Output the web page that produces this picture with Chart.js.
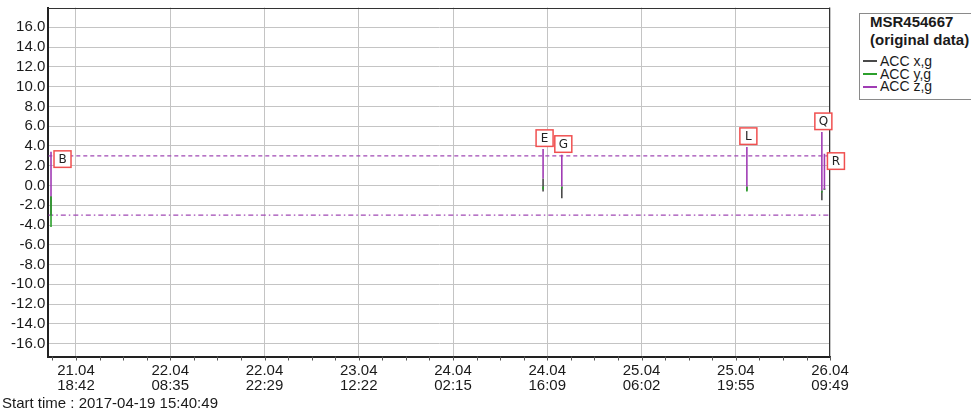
<!DOCTYPE html>
<html>
<head>
<meta charset="utf-8">
<script src="https://cdn.jsdelivr.net/npm/chart.js@4.4.0/dist/chart.umd.min.js"></script>
<style>
  body { margin: 0; background: #fff; font-family: "Liberation Sans", Arial, sans-serif; color: #1a1a1a; }
  #wrap { position: relative; width: 971px; height: 410px; }
  #legend { position: absolute; left: 859px; top: 13px; width: 112px; height: 87px;
            border: 1px solid #8a8a8a; border-right: none; box-sizing: border-box; overflow: hidden; background: #fff; }
  #legend .title { position: absolute; left: 10px; top: -1px; font-weight: bold; font-size: 15px; line-height: 18.3px; white-space: nowrap; }
  #legend .items { position: absolute; left: 3px; top: 41px; font-size: 14px; line-height: 12.7px; white-space: nowrap; }
  #legend .sw { display: inline-block; width: 14px; height: 2px; vertical-align: middle; margin-right: 3px; position: relative; top: -1px; }
  #start { position: absolute; left: 2px; top: 395px; font-size: 15px; line-height: 16px; white-space: nowrap; }
</style>
</head>
<body>
<div id="wrap">
  <canvas id="accChart" width="971" height="410"></canvas>
  <div id="legend">
    <div class="title">MSR454667<br>(original data)</div>
    <div class="items">
      <div><span class="sw" style="background:#4a4a4a"></span>ACC x,g</div>
      <div><span class="sw" style="background:#2ca02c"></span>ACC y,g</div>
      <div><span class="sw" style="background:#a03cb4"></span>ACC z,g</div>
    </div>
  </div>
  <div id="start">Start time : 2017-04-19 15:40:49</div>
</div>
<script>
// Time axis: hours elapsed since the start time
const tickHours = [51.02, 64.91, 78.80, 92.69, 106.58, 120.47, 134.36, 148.25, 162.13];
const tickLabels = [
  ['21.04', '18:42'], ['22.04', '08:35'], ['22.04', '22:29'], ['23.04', '12:22'],
  ['24.04', '02:15'], ['24.04', '16:09'], ['25.04', '06:02'], ['25.04', '19:55'], ['26.04', '09:49']
];
const xMin = 46.94;
const xMax = 162.13;

const yTicks = [-16, -14, -12, -10, -8, -6, -4, -2, 0, 2, 4, 6, 8, 10, 12, 14, 16];
const yMin = -17.3;
const yMax = 18;

// Shock events: time, marker letter and [from, to] range of each axis
const eventTimes = [47.34, 119.85, 122.61, 149.88, 160.93, 161.31];
const eventLabels = ['B', 'E', 'G', 'L', 'Q', 'R'];
const labelSide = ['right', 'above', 'above', 'above', 'above', 'right'];
const accX = [[-1.1, -3.0], [0.7, -0.6], [-0.1, -1.3], [-0.1, -0.5], [-0.5, -1.5], [-0.3, -0.4]];
const accY = [[-1.1, -4.2], [-0.1, -0.4], [-0.1, -0.3], [-0.1, -0.6], [-0.5, -0.7], [-0.3, -0.45]];
const accZ = [[3.4, -1.1], [3.7, 0.7], [3.1, -0.1], [3.9, -0.1], [5.4, -0.5], [3.2, -0.4]];

const limitHigh = 3;
const limitLow = -3;

function spikes(ranges) {
  const pts = [];
  eventTimes.forEach((t, i) => {
    pts.push({ x: t, y: ranges[i][0] }, { x: t, y: ranges[i][1] }, { x: t, y: null });
  });
  return pts;
}

// Frame, axis ticks and event markers
const decorations = {
  id: 'decorations',
  beforeDatasetsDraw(chart) {
    const { ctx, chartArea: a, scales: { x } } = chart;
    ctx.save();
    ctx.strokeStyle = '#555';
    ctx.lineWidth = 1;
    ctx.beginPath();
    const step = (tickHours[1] - tickHours[0]) / 4;
    for (let v = tickHours[0] - step; v <= xMax + 0.01; v += step) {
      if (v < xMin) continue;
      const px = Math.round(x.getPixelForValue(v)) + 0.5;
      ctx.moveTo(px, a.bottom);
      ctx.lineTo(px, a.bottom + 4);
    }
    ctx.stroke();
    ctx.restore();
  },
  afterDatasetsDraw(chart) {
    const { ctx, chartArea: a, scales: { x, y } } = chart;
    ctx.save();
    ctx.strokeStyle = '#333';
    ctx.lineWidth = 1;
    ctx.beginPath();
    ctx.moveTo(a.left, Math.round(a.top) + 0.5);
    ctx.lineTo(a.right, Math.round(a.top) + 0.5);
    ctx.moveTo(Math.round(a.right) - 0.5, a.top);
    ctx.lineTo(Math.round(a.right) - 0.5, a.bottom);
    ctx.stroke();

    ctx.font = '12px "DejaVu Sans", sans-serif';
    ctx.textAlign = 'center';
    ctx.textBaseline = 'middle';
    eventLabels.forEach((lab, i) => {
      const px = x.getPixelForValue(eventTimes[i]);
      const top = y.getPixelForValue(accZ[i][0]);
      const w = 17, h = 16.5;
      let bx, by;
      if (labelSide[i] === 'above') {
        bx = px + 1.5 - w / 2;
        by = top - 2.5 - h;
      } else {
        bx = px + 3;
        by = top - 1;
      }
      ctx.fillStyle = '#fff';
      ctx.fillRect(bx, by, w, h);
      ctx.strokeStyle = '#f05050';
      ctx.lineWidth = 1.5;
      ctx.strokeRect(bx, by, w, h);
      ctx.fillStyle = '#222';
      ctx.fillText(lab, bx + w / 2, by + h / 2 + 0.5);
    });
    ctx.restore();
  }
};

new Chart(document.getElementById('accChart'), {
  type: 'line',
  data: {
    datasets: [
      { label: 'ACC z,g', data: spikes(accZ), borderColor: '#a03cb4', borderWidth: 1.6, order: 0 },
      { label: 'ACC y,g', data: spikes(accY), borderColor: '#2ca02c', borderWidth: 1.6, order: 1 },
      { label: 'ACC x,g', data: spikes(accX), borderColor: '#4a4a4a', borderWidth: 1.6, order: 2 },
      { label: 'limit +', data: [{ x: xMin, y: limitHigh }, { x: xMax, y: limitHigh }],
        borderColor: '#a048b4', borderWidth: 1.3, borderDash: [4, 3], order: 3 },
      { label: 'limit -', data: [{ x: xMin, y: limitLow }, { x: xMax, y: limitLow }],
        borderColor: '#a048b4', borderWidth: 1.3, borderDash: [5, 3, 1.5, 3], order: 3 }
    ]
  },
  options: {
    responsive: false,
    animation: false,
    spanGaps: false,
    elements: { point: { radius: 0 }, line: { tension: 0 } },
    layout: { padding: { top: 7.5, right: 141, left: 0, bottom: 0 } },
    plugins: {
      legend: { display: false },
      tooltip: { enabled: false }
    },
    scales: {
      x: {
        type: 'linear',
        min: xMin,
        max: xMax,
        afterBuildTicks: (scale) => { scale.ticks = tickHours.map(v => ({ value: v })); },
        afterFit: (scale) => { scale.height = 53.5; scale.paddingLeft = 0; scale.paddingRight = 0; },
        ticks: {
          callback: (v, i) => tickLabels[i],
          maxRotation: 0,
          autoSkip: false,
          padding: 7,
          color: '#1a1a1a',
          font: { family: '"Liberation Sans", Arial, sans-serif', size: 15, lineHeight: 1.0 }
        },
        grid: { color: '#c4c4c4', lineWidth: 1, drawTicks: false },
        border: { color: '#222', width: 2 }
      },
      y: {
        min: yMin,
        max: yMax,
        afterBuildTicks: (scale) => { scale.ticks = yTicks.map(v => ({ value: v })); },
        afterFit: (scale) => { scale.width = 48.3; scale.paddingTop = 0; scale.paddingBottom = 0; },
        ticks: {
          callback: (v) => v.toFixed(1),
          padding: 3,
          color: '#1a1a1a',
          font: { family: '"Liberation Sans", Arial, sans-serif', size: 15 }
        },
        grid: { color: '#c4c4c4', lineWidth: 1, drawTicks: false },
        border: { color: '#222', width: 2 }
      }
    }
  },
  plugins: [decorations]
});
</script>
</body>
</html>
